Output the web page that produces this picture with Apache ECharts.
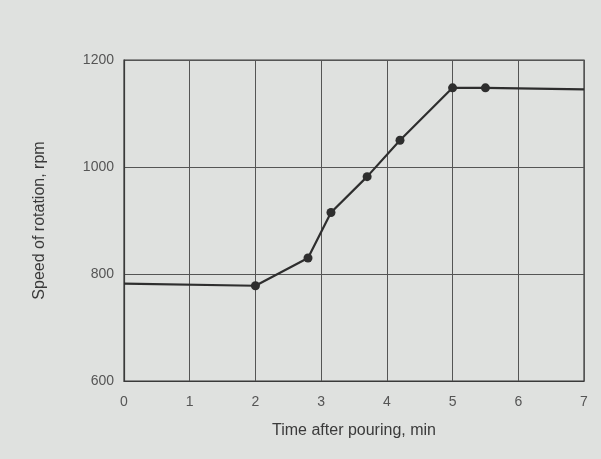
<!DOCTYPE html>
<html><head><meta charset="utf-8">
<script src="https://cdn.jsdelivr.net/npm/echarts@6/dist/echarts.min.js"></script>
<style>html,body{margin:0;padding:0;background:#dfe1df;}#c{width:601px;height:459px;}</style>
</head><body><div id="c"></div>
<script>
var timeMin = [0, 2, 2.8, 3.15, 3.7, 4.2, 5, 5.5, 7];
var speedRpm = [782, 778, 830, 915, 982, 1050, 1148, 1148, 1145];
var hasMarker = [false, true, true, true, true, true, true, true, false];
var xTicks = [0, 1, 2, 3, 4, 5, 6, 7];
var yTicks = [600, 800, 1000, 1200];

var data = timeMin.map(function (t, i) {
  return { value: [t, speedRpm[i]], symbol: hasMarker[i] ? 'circle' : 'none' };
});
var chart = echarts.init(document.getElementById('c'));
chart.setOption({
  backgroundColor: '#dfe1df',
  grid: { left: 124, right: 17, top: 60, bottom: 78, show: true, borderColor: '#3a3a3a', borderWidth: 1.2 },
  xAxis: {
    type: 'value', min: xTicks[0], max: xTicks[xTicks.length - 1], interval: 1,
    name: 'Time after pouring, min', nameLocation: 'middle', nameGap: 42,
    nameTextStyle: { fontFamily: 'Liberation Sans', fontSize: 16, color: '#3a3a3a' },
    axisLine: { lineStyle: { color: '#3a3a3a', width: 1.2 } },
    axisTick: { show: false },
    axisLabel: { fontFamily: 'Liberation Sans', fontSize: 14, color: '#555', margin: 14,
      formatter: function (v) { return String(v); } },
    splitLine: { show: true, lineStyle: { color: '#555', width: 1 } }
  },
  yAxis: {
    type: 'value', min: yTicks[0], max: yTicks[yTicks.length - 1], interval: 200,
    name: 'Speed of rotation, rpm', nameLocation: 'middle', nameGap: 76,
    nameTextStyle: { fontFamily: 'Liberation Sans', fontSize: 16, color: '#3a3a3a' },
    axisLine: { show: true, lineStyle: { color: '#3a3a3a', width: 1.2 } },
    axisTick: { show: false },
    axisLabel: { fontFamily: 'Liberation Sans', fontSize: 14, color: '#555', margin: 10,
      formatter: function (v) { return String(v); } },
    splitLine: { show: true, lineStyle: { color: '#555', width: 1 } }
  },
  series: [{
    type: 'line', data: data, symbolSize: 9,
    lineStyle: { color: '#2e2e2e', width: 2.2 },
    itemStyle: { color: '#2e2e2e' },
    animation: false
  }]
});
</script></body></html>
